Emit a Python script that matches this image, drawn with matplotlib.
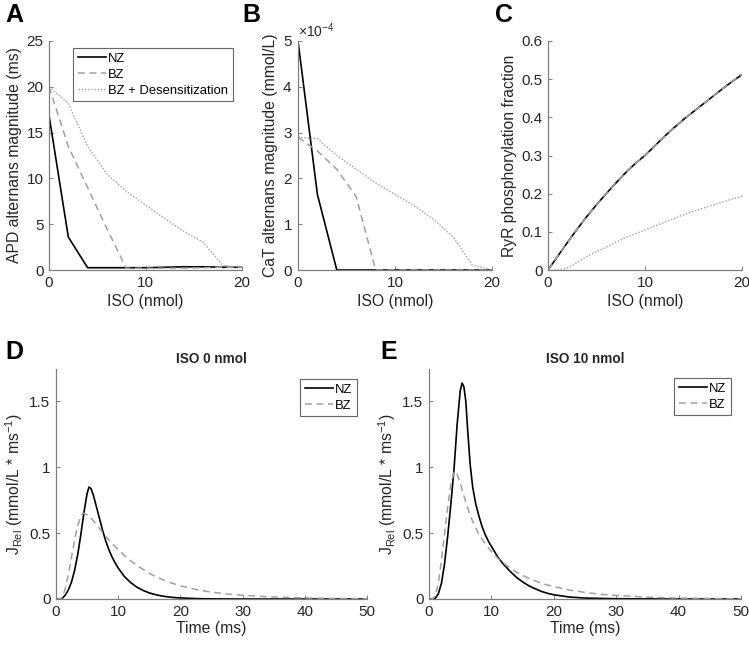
import matplotlib
matplotlib.use("Agg")
import matplotlib.pyplot as plt
from matplotlib.ticker import FuncFormatter, ScalarFormatter

plt.rcParams['font.family'] = ['Liberation Sans', 'DejaVu Sans']
plt.rcParams['mathtext.fontset'] = 'custom'
plt.rcParams['mathtext.rm'] = 'Liberation Sans'
plt.rcParams['mathtext.it'] = 'Liberation Sans:italic'

# ---------------- data ----------------
iso = [0, 2, 4, 6, 8, 10, 12, 14, 16, 18, 20]

apd_nz = [16.9, 3.6, 0.25, 0.25, 0.25, 0.25, 0.3, 0.35, 0.35, 0.3, 0.3]
apd_bz = [20.0, 13.5, 9.0, 4.5, 0.2, 0.2, 0.2, 0.2, 0.25, 0.3, 0.3]
apd_des = [20.0, 18.2, 13.5, 10.5, 8.6, 7.1, 5.6, 4.2, 3.0, 0.5, 0.3]

cat_nz = [5.0e-4, 1.65e-4, 0.0, 0, 0, 0, 0, 0, 0, 0, 0]
cat_bz = [2.9e-4, 2.6e-4, 2.2e-4, 1.6e-4, 0.0, 0, 0, 0, 0, 0, 0]
cat_des = [2.9e-4, 2.87e-4, 2.5e-4, 2.2e-4, 1.9e-4, 1.65e-4, 1.4e-4, 1.1e-4, 0.72e-4, 0.1e-4, 0.0]

iso_c = [0, 1, 2, 3, 4, 5, 6, 7, 8, 9, 10, 11, 12, 13, 14, 15, 16, 17, 18, 19, 20]
ryr_nz = [0.0, 0.036, 0.072, 0.107, 0.14, 0.171, 0.2, 0.228, 0.255, 0.279, 0.30,
          0.325, 0.35, 0.373, 0.395, 0.415, 0.435, 0.455, 0.475, 0.494, 0.512]
ryr_bz = ryr_nz
ryr_des = [0.0, 0.0, 0.005, 0.02, 0.035, 0.048, 0.06, 0.073, 0.085, 0.095, 0.105,
           0.115, 0.125, 0.135, 0.145, 0.154, 0.162, 0.17, 0.178, 0.186, 0.193]

t_dnz = [0, 0.5, 1, 1.5, 2, 2.5, 3, 3.5, 4, 4.5, 5, 5.3, 5.6, 6, 6.5, 7, 7.5, 8, 8.5,
         9, 9.5, 10, 11, 12, 13, 14, 15, 16, 17, 18, 19, 20, 22.5, 25, 30, 35, 40, 50]
d_nz = [0, 0, 0.005, 0.03, 0.07, 0.13, 0.22, 0.34, 0.49, 0.66, 0.80, 0.85, 0.84, 0.79,
        0.70, 0.61, 0.52, 0.44, 0.375, 0.32, 0.275, 0.235, 0.17, 0.125, 0.09, 0.065,
        0.046, 0.033, 0.023, 0.016, 0.011, 0.008, 0.003, 0.001, 0, 0, 0, 0]

t_enz = [0, 0.5, 1, 1.5, 2, 2.5, 3, 3.5, 4, 4.5, 5, 5.3, 5.6, 5.9, 6.2, 6.6, 7, 7.5, 8,
         8.5, 9, 9.5, 10, 11, 12, 13, 14, 15, 16, 17, 18, 19, 20, 22.5, 25, 30, 35, 40, 50]
e_nz = [0, 0, 0.005, 0.04, 0.12, 0.27, 0.48, 0.72, 0.98, 1.32, 1.58, 1.64, 1.61, 1.50,
        1.28, 1.02, 0.85, 0.72, 0.63, 0.55, 0.49, 0.44, 0.40, 0.32, 0.26, 0.21, 0.165,
        0.13, 0.10, 0.078, 0.058, 0.043, 0.032, 0.015, 0.007, 0.002, 0.001, 0, 0]

t_bz = [0, 0.5, 1, 1.5, 2, 2.5, 3, 3.5, 4, 4.3, 4.5, 5, 5.5, 6, 6.5, 7, 8, 9, 10, 11,
        12, 13, 14, 15, 16, 17, 18, 19, 20, 22.5, 25, 27.5, 30, 35, 40, 45, 50]
d_bz = [0, 0, 0.01, 0.08, 0.19, 0.32, 0.45, 0.56, 0.63, 0.648, 0.65, 0.64, 0.62, 0.595,
        0.565, 0.535, 0.475, 0.42, 0.375, 0.33, 0.29, 0.255, 0.225, 0.195, 0.17, 0.15,
        0.13, 0.115, 0.10, 0.072, 0.052, 0.038, 0.028, 0.015, 0.008, 0.004, 0.002]
e_bz = [0, 0, 0.02, 0.12, 0.30, 0.50, 0.70, 0.87, 0.96, 0.97, 0.95, 0.88, 0.80, 0.72,
        0.65, 0.59, 0.49, 0.42, 0.36, 0.31, 0.27, 0.235, 0.205, 0.18, 0.158, 0.138,
        0.12, 0.106, 0.094, 0.068, 0.05, 0.036, 0.027, 0.014, 0.007, 0.004, 0.002]

# ---------------- style ----------------
W, H = 749, 645
fig = plt.figure(figsize=(W / 100, H / 100), dpi=100)

AXC = '#7f7f7f'
TXC = '#262626'
GREY = '#a0a0a0'
DASH = (4.5, 3.0)
DOT = (1.0, 1.3)
LBL = 11.3
TCK = 11
LEG = 9.4


def fmt(v, pos):
    return '%g' % v


def style(ax):
    for s in ['top', 'right']:
        ax.spines[s].set_visible(False)
    for s in ['left', 'bottom']:
        ax.spines[s].set_color(AXC)
        ax.spines[s].set_linewidth(0.9)
    ax.tick_params(direction='in', length=3, width=0.7, color=AXC,
                   labelcolor=TXC, labelsize=TCK, pad=4)


def rect(l, r, top, bot):
    return [l / W, 1 - bot / H, (r - l) / W, (bot - top) / H]


def legend(ax, anc):
    leg = ax.legend(loc='upper right', bbox_to_anchor=anc, borderaxespad=0,
                    fontsize=LEG, frameon=True, fancybox=False, handlelength=2.2,
                    handletextpad=0.15, borderpad=0.35, labelspacing=0.3)
    leg.get_frame().set_edgecolor('#404040')
    leg.get_frame().set_linewidth(0.8)
    return leg


axA = fig.add_axes(rect(49, 242, 41, 270))
axB = fig.add_axes(rect(298, 492, 41, 270))
axC = fig.add_axes(rect(548, 742, 41, 270))
axD = fig.add_axes(rect(56, 367, 368.5, 599))
axE = fig.add_axes(rect(429, 741, 368.5, 599))

# A
axA.plot(iso, apd_nz, color='black', lw=1.2, label='NZ')
axA.plot(iso, apd_bz, color=GREY, lw=1.1, dashes=DASH, label='BZ')
axA.plot(iso, apd_des, color=GREY, lw=1.0, dashes=DOT, label='BZ + Desensitization')
axA.set_xlim(0, 20)
axA.set_ylim(0, 25)
axA.set_xticks([0, 10, 20])
axA.set_yticks([0, 5, 10, 15, 20, 25])
axA.set_xlabel('ISO (nmol)', fontsize=LBL, color=TXC, labelpad=3)
axA.set_ylabel('APD alternans magnitude (ms)', fontsize=LBL, color=TXC, labelpad=3)
legend(axA, (0.953, 0.969))

# B
axB.plot(iso, cat_nz, color='black', lw=1.2)
axB.plot(iso, cat_bz, color=GREY, lw=1.1, dashes=DASH)
axB.plot(iso, cat_des, color=GREY, lw=1.0, dashes=DOT)
axB.set_xlim(0, 20)
axB.set_ylim(0, 5e-4)
axB.set_xticks([0, 10, 20])
axB.set_yticks([0, 1e-4, 2e-4, 3e-4, 4e-4, 5e-4])
sf = ScalarFormatter(useMathText=True)
sf.set_powerlimits((-3, 3))
axB.yaxis.set_major_formatter(sf)
axB.yaxis.get_offset_text().set_fontsize(10)
axB.yaxis.get_offset_text().set_color(TXC)
axB.set_xlabel('ISO (nmol)', fontsize=LBL, color=TXC, labelpad=3)
axB.set_ylabel('CaT alternans magnitude (mmol/L)', fontsize=LBL, color=TXC, labelpad=3)

# C
axC.plot(iso_c, ryr_nz, color='black', lw=1.2)
axC.plot(iso_c, ryr_bz, color=GREY, lw=1.1, dashes=DASH)
axC.plot(iso_c, ryr_des, color=GREY, lw=1.0, dashes=DOT)
axC.set_xlim(0, 20)
axC.set_ylim(0, 0.6)
axC.set_xticks([0, 10, 20])
axC.set_yticks([0, 0.1, 0.2, 0.3, 0.4, 0.5, 0.6])
axC.yaxis.set_major_formatter(FuncFormatter(fmt))
axC.set_xlabel('ISO (nmol)', fontsize=LBL, color=TXC, labelpad=3)
axC.set_ylabel('RyR phosphorylation fraction', fontsize=LBL, color=TXC, labelpad=3)

# D, E
for ax, tn, nz, bz, title, anc in [(axD, t_dnz, d_nz, d_bz, 'ISO 0 nmol', (0.968, 0.954)),
                                    (axE, t_enz, e_nz, e_bz, 'ISO 10 nmol', (0.968, 0.959))]:
    ax.plot(tn, nz, color='black', lw=1.2, label='NZ')
    ax.plot(t_bz, bz, color=GREY, lw=1.1, dashes=DASH, label='BZ')
    ax.set_xlim(0, 50)
    ax.set_ylim(0, 1.75)
    ax.set_xticks([0, 10, 20, 30, 40, 50])
    ax.set_yticks([0, 0.5, 1, 1.5])
    ax.yaxis.set_major_formatter(FuncFormatter(fmt))
    ax.set_xlabel('Time (ms)', fontsize=LBL, color=TXC, labelpad=2)
    ax.set_ylabel(r'J$_{\mathrm{Rel}}$ (mmol/L * ms$^{\mathrm{-1}}$)', fontsize=LBL,
                  color=TXC, labelpad=3)
    ax.set_title(title, fontsize=9.8, fontweight='bold', color=TXC, pad=4)
    legend(ax, anc)

for ax in [axA, axB, axC, axD, axE]:
    style(ax)

# panel letters
for x, y, s in [(5, 3, 'A'), (242, 3, 'B'), (495, 3, 'C'), (5, 340, 'D'), (380, 340, 'E')]:
    fig.text(x / W, 1 - y / H, s, fontsize=18, fontweight='bold', color='black',
             ha='left', va='top')

fig.savefig('out.png', dpi=100)
